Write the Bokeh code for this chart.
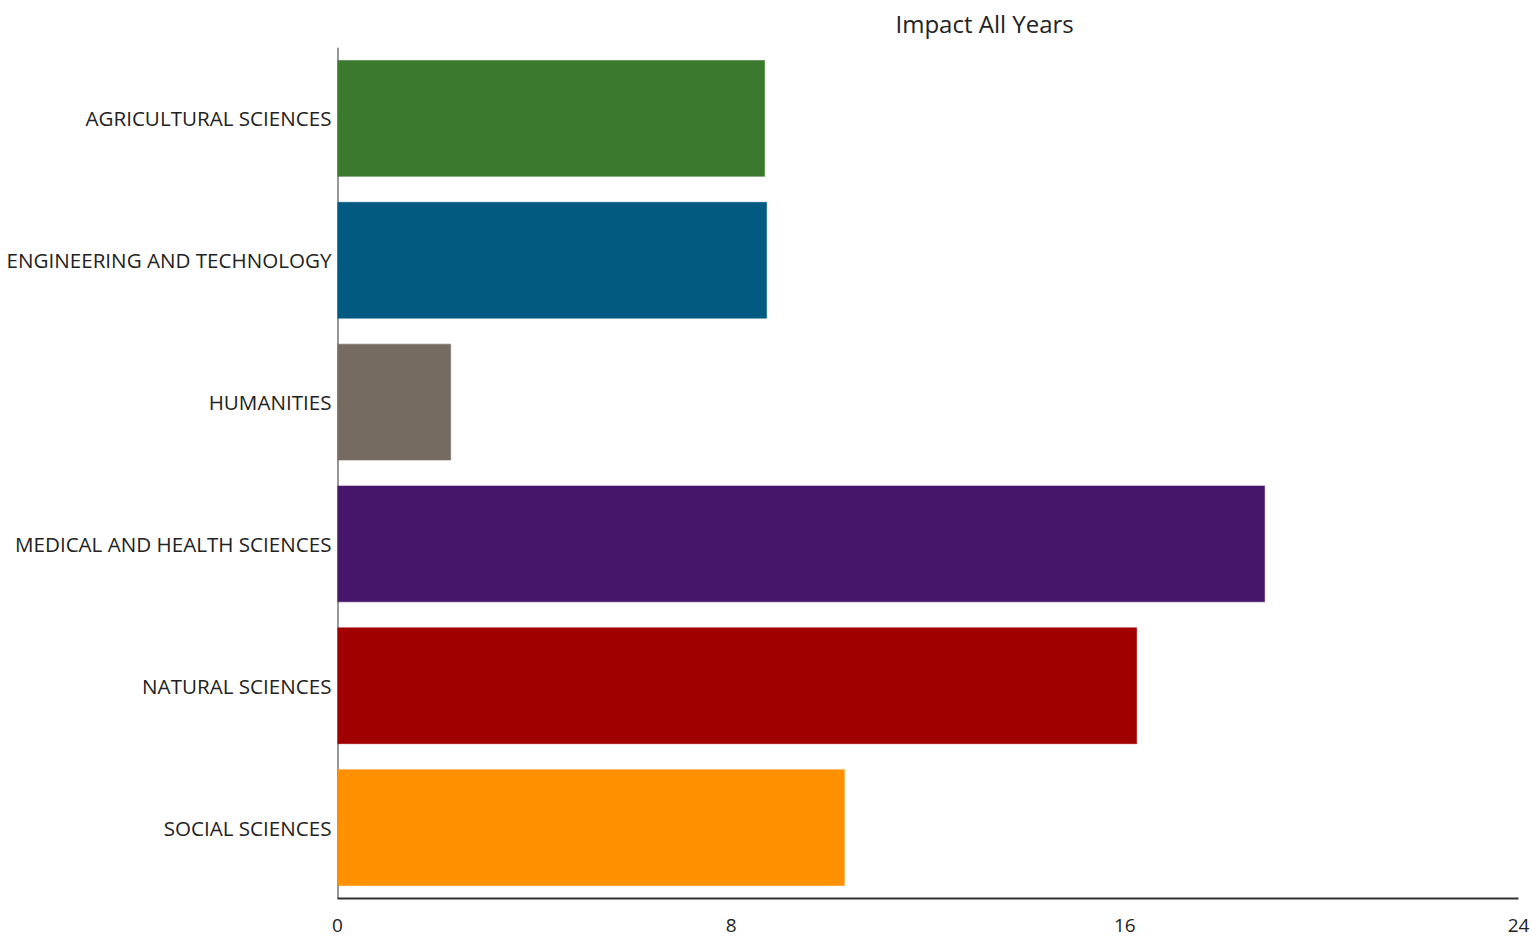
from bokeh.plotting import figure
from bokeh.models import ColumnDataSource, FactorRange, Range1d, FixedTicker, Span
from bokeh.embed import file_html
from bokeh.resources import INLINE

# Impact score per research field (all years combined)
fields = [
    "AGRICULTURAL SCIENCES",
    "ENGINEERING AND TECHNOLOGY",
    "HUMANITIES",
    "MEDICAL AND HEALTH SCIENCES",
    "NATURAL SCIENCES",
    "SOCIAL SCIENCES",
]
impact = [8.68, 8.72, 2.30, 18.84, 16.24, 10.30]
colors = ["#3B7A2E", "#025A83", "#766B61", "#46166B", "#A00000", "#FF9000"]
x_ticks = [0, 8, 16, 24]

FONT = "Open Sans"

source = ColumnDataSource(data=dict(field=fields, impact=impact, color=colors))

p = figure(
    width=1532,
    height=938,
    y_range=FactorRange(factors=fields[::-1], range_padding=0),
    x_range=Range1d(0, 24),
    output_backend="svg",
    toolbar_location=None,
    title="Impact All Years",
    min_border_left=337,
    min_border_right=14,
    min_border_top=46,
    min_border_bottom=40,
)

# Vertical axis line sits underneath the bars
p.add_layout(Span(location=0, dimension="height", line_color="#333333",
                  line_width=2, level="underlay"))

p.hbar(
    y="field", right="impact", left=0, height=0.817,
    fill_color="color", line_color="color", line_alpha=0.55, line_width=1,
    source=source,
)

# Title, hung from the top of its panel
p.title.text_font = FONT
p.title.text_font_size = "24px"
p.title.text_font_style = "normal"
p.title.text_color = "#222222"
p.title.align = "left"
p.title.vertical_align = "top"
p.title.offset = 558
p.title.standoff = 12

# Plot area
p.outline_line_color = None
p.background_fill_color = "white"
p.border_fill_color = "white"
p.xgrid.grid_line_color = None
p.ygrid.grid_line_color = None

# Axes
for ax in (p.xaxis, p.yaxis):
    ax.major_tick_line_color = None
    ax.minor_tick_line_color = None
    ax.major_label_text_font = FONT
    ax.major_label_text_font_size = "19px"
    ax.major_label_text_color = "#222222"

p.xaxis.axis_line_color = "#333333"
p.xaxis.axis_line_width = 2
p.yaxis.axis_line_color = None

p.xaxis.ticker = FixedTicker(ticks=x_ticks)
p.xaxis.major_label_standoff = 14
p.yaxis.major_label_standoff = 0
p.yaxis.major_label_text_font_size = "20.6px"

with open("out.html", "w") as f:
    f.write(file_html(p, INLINE))
